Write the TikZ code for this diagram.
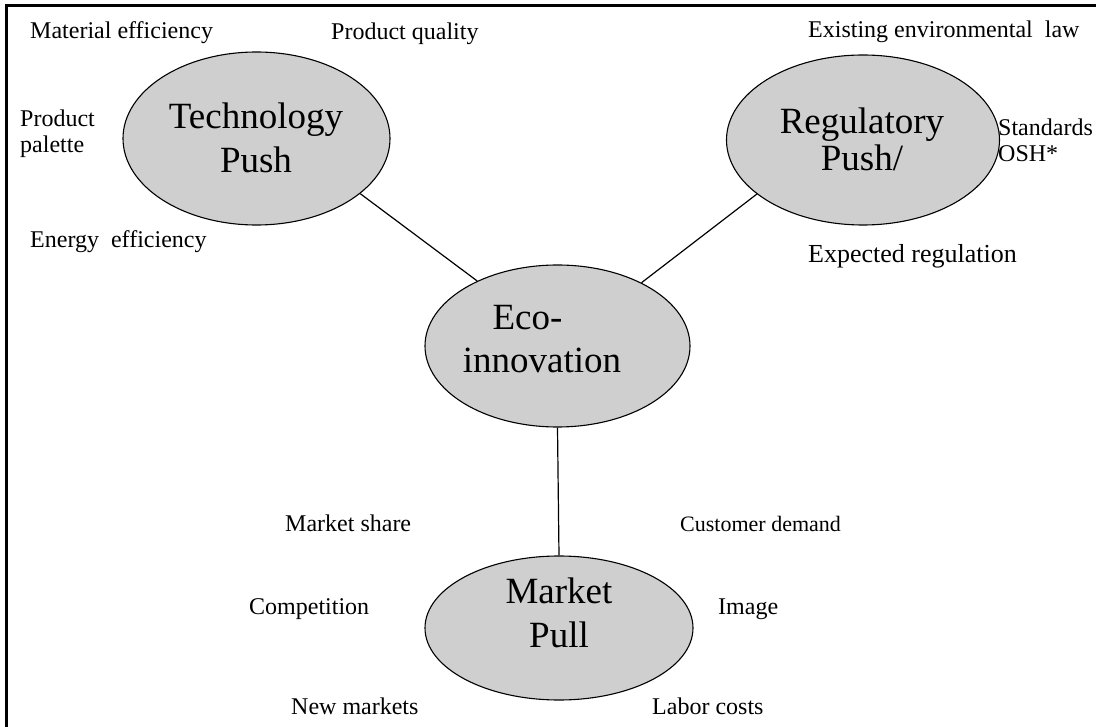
\documentclass[tikz,border=0pt]{standalone}
\usepackage{fontspec}
\setmainfont{Liberation Serif}[Ligatures=NoCommon]
\usetikzlibrary{shapes.geometric}
\definecolor{ellfill}{RGB}{207,207,207}
\tikzset{
  bubble/.style={ellipse, draw=black, line width=1.1pt, fill=ellfill, inner sep=0pt},
  bigtxt/.style={font=\fontsize{37}{43.5}\selectfont, align=center, inner sep=0pt},
  lbl/.style={font=\fontsize{24}{26}\selectfont, anchor=base west, inner sep=0pt},
  lbltwo/.style={font=\fontsize{24}{26}\selectfont, anchor=west, align=left, inner sep=0pt},
  link/.style={line width=1.2pt, draw=black},
  framebar/.style={line width=3.2pt, draw=black}
}
\begin{document}
\begin{tikzpicture}[x=1pt,y=-1pt]
\useasboundingbox (0,0) rectangle (1096,727);
% frame
\coordinate (fBL) at (6.5,727);
\coordinate (fTL) at (6.5,5.7);
\coordinate (fTR) at (1096,5.7);
\draw[framebar] (fBL) -- (fTL) -- (fTR);
% ellipses
\node[bubble, minimum width=267, minimum height=173] (tech) at (256.5,138.5) {};
\node[bubble, minimum width=273, minimum height=170] (reg) at (863,140) {};
\node[bubble, minimum width=265, minimum height=162] (eco) at (557.5,346) {};
\node[bubble, minimum width=268, minimum height=144] (mkt) at (559,628) {};
% ellipse texts
\node[bigtxt] (techt) at (256,138) {Technology\\Push};
\node[bigtxt] (regt) at (862,139) {Regulatory\\[-6.5pt]Push/};
\node[bigtxt] (ecot) at (542,339) {Eco-\kern29pt\\innovation};
\node[bigtxt] (mktt) at (559,613) {Market\\Pull};
% connectors
\draw[link] (tech.-28) -- (eco.141);
\draw[link] (reg.-153) -- (eco.37);
\draw[link] (eco.south) -- (mkt.north);
% labels: technology push
\node[lbl] (l1) at (30,39) {Material efficiency};
\node[lbl] (l2) at (331,40) {Product quality};
\node[lbltwo] (l3) at (20,133.4) {Product\\palette};
\node[lbl] (l4) at (30,248) {Energy\ \ efficiency};
% labels: regulatory push
\node[lbl] (l5) at (808,38) {Existing environmental\ \ law};
\node[lbltwo] (l6) at (998,140.5) {Standards\\OSH*};
\node[lbl, font=\fontsize{26}{28}\selectfont] (l7) at (808,263) {Expected regulation};
% labels: market pull
\node[lbl] (l8) at (285,531) {Market share};
\node[lbl, font=\fontsize{22}{26}\selectfont] (l9) at (680,531) {Customer demand};
\node[lbl] (l10) at (249,614) {Competition};
\node[lbl] (l11) at (718,614) {Image};
\node[lbl] (l12) at (291,714) {New markets};
\node[lbl] (l13) at (652,714) {Labor costs};
\end{tikzpicture}
\end{document}
